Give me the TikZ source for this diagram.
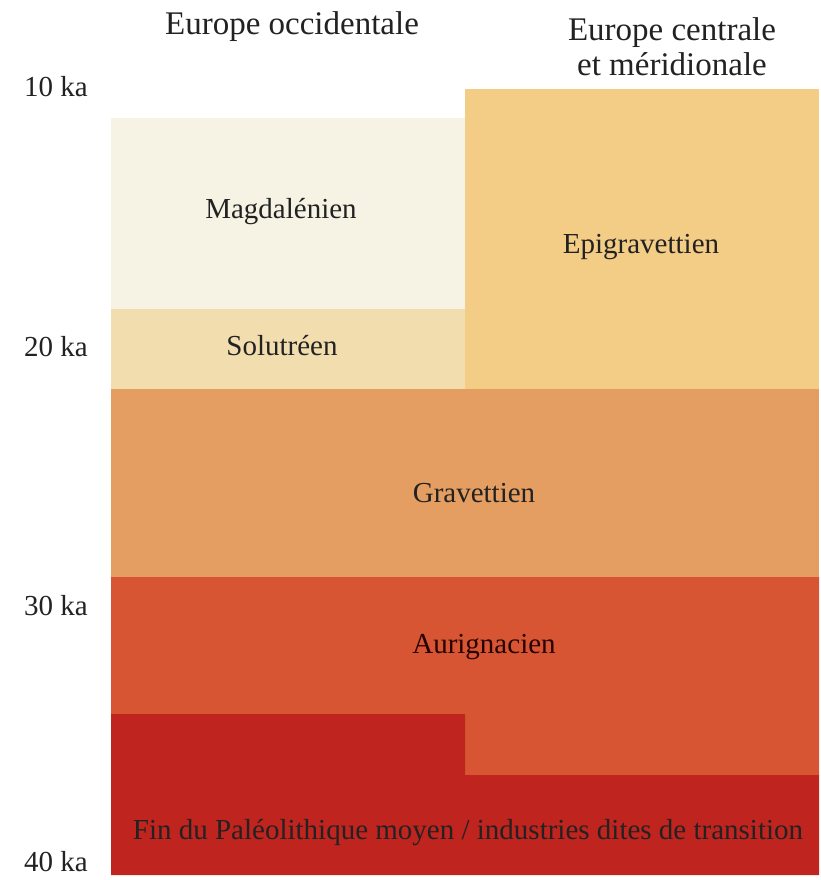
\documentclass[tikz,border=0pt]{standalone}
\usepackage{fontspec}
\setmainfont{Liberation Serif}
\newfontfamily\tnr{Liberation Serif}
\definecolor{cMag}{HTML}{F7F3E4}
\definecolor{cSol}{HTML}{F2DDAF}
\definecolor{cEpi}{HTML}{F3CC85}
\definecolor{cGra}{HTML}{E59E62}
\definecolor{cAur}{HTML}{D75532}
\definecolor{cFin}{HTML}{BF241F}
\definecolor{txt}{HTML}{222222}
\begin{document}
\begin{tikzpicture}[x=1pt,y=-1pt,
  lbl/.style={anchor=base,inner sep=0pt,text=txt,font=\tnr\fontsize{29}{34}\selectfont},
  head/.style={anchor=base,inner sep=0pt,text=txt,font=\tnr\fontsize{33}{38}\selectfont},
  age/.style={anchor=base,inner sep=0pt,text=txt,font=\tnr\fontsize{29}{34}\selectfont}]
\useasboundingbox[fill=white] (0,0) rectangle (820,880);
% blocks
\fill[cMag] (111,118) rectangle (465,309);
\fill[cSol] (111,309) rectangle (465,389);
\fill[cEpi] (465,89) rectangle (819,389);
\fill[cGra] (111,389) rectangle (819,577);
\fill[cAur] (111,577) -- (819,577) -- (819,775) -- (465,775) -- (465,714) -- (111,714) -- cycle;
\fill[cFin] (111,714) -- (465,714) -- (465,775) -- (819,775) -- (819,875) -- (111,875) -- cycle;
% headings
\node[head] (hw) at (292,35) {Europe occidentale};
\node[head] (hc1) at (672,41) {Europe centrale};
\node[head] (hc2) at (672,76) {et méridionale};
% ages
\node[age] (a10) at (56,97) {10 ka};
\node[age] (a20) at (56,356) {20 ka};
\node[age] (a30) at (56,615) {30 ka};
\node[age] (a40) at (56,871) {40 ka};
% labels
\node[lbl] (mag) at (281,218) {Magdalénien};
\node[lbl] (sol) at (282,355) {Solutréen};
\node[lbl] (epi) at (641,253) {Epigravettien};
\node[lbl] (gra) at (474,502) {Gravettien};
\node[lbl,text=black!85!red] (aur) at (484,653) {Aurignacien};
\node[lbl] (fin) at (468,839) {Fin du Paléolithique moyen / industries dites de transition};
\end{tikzpicture}
\end{document}
